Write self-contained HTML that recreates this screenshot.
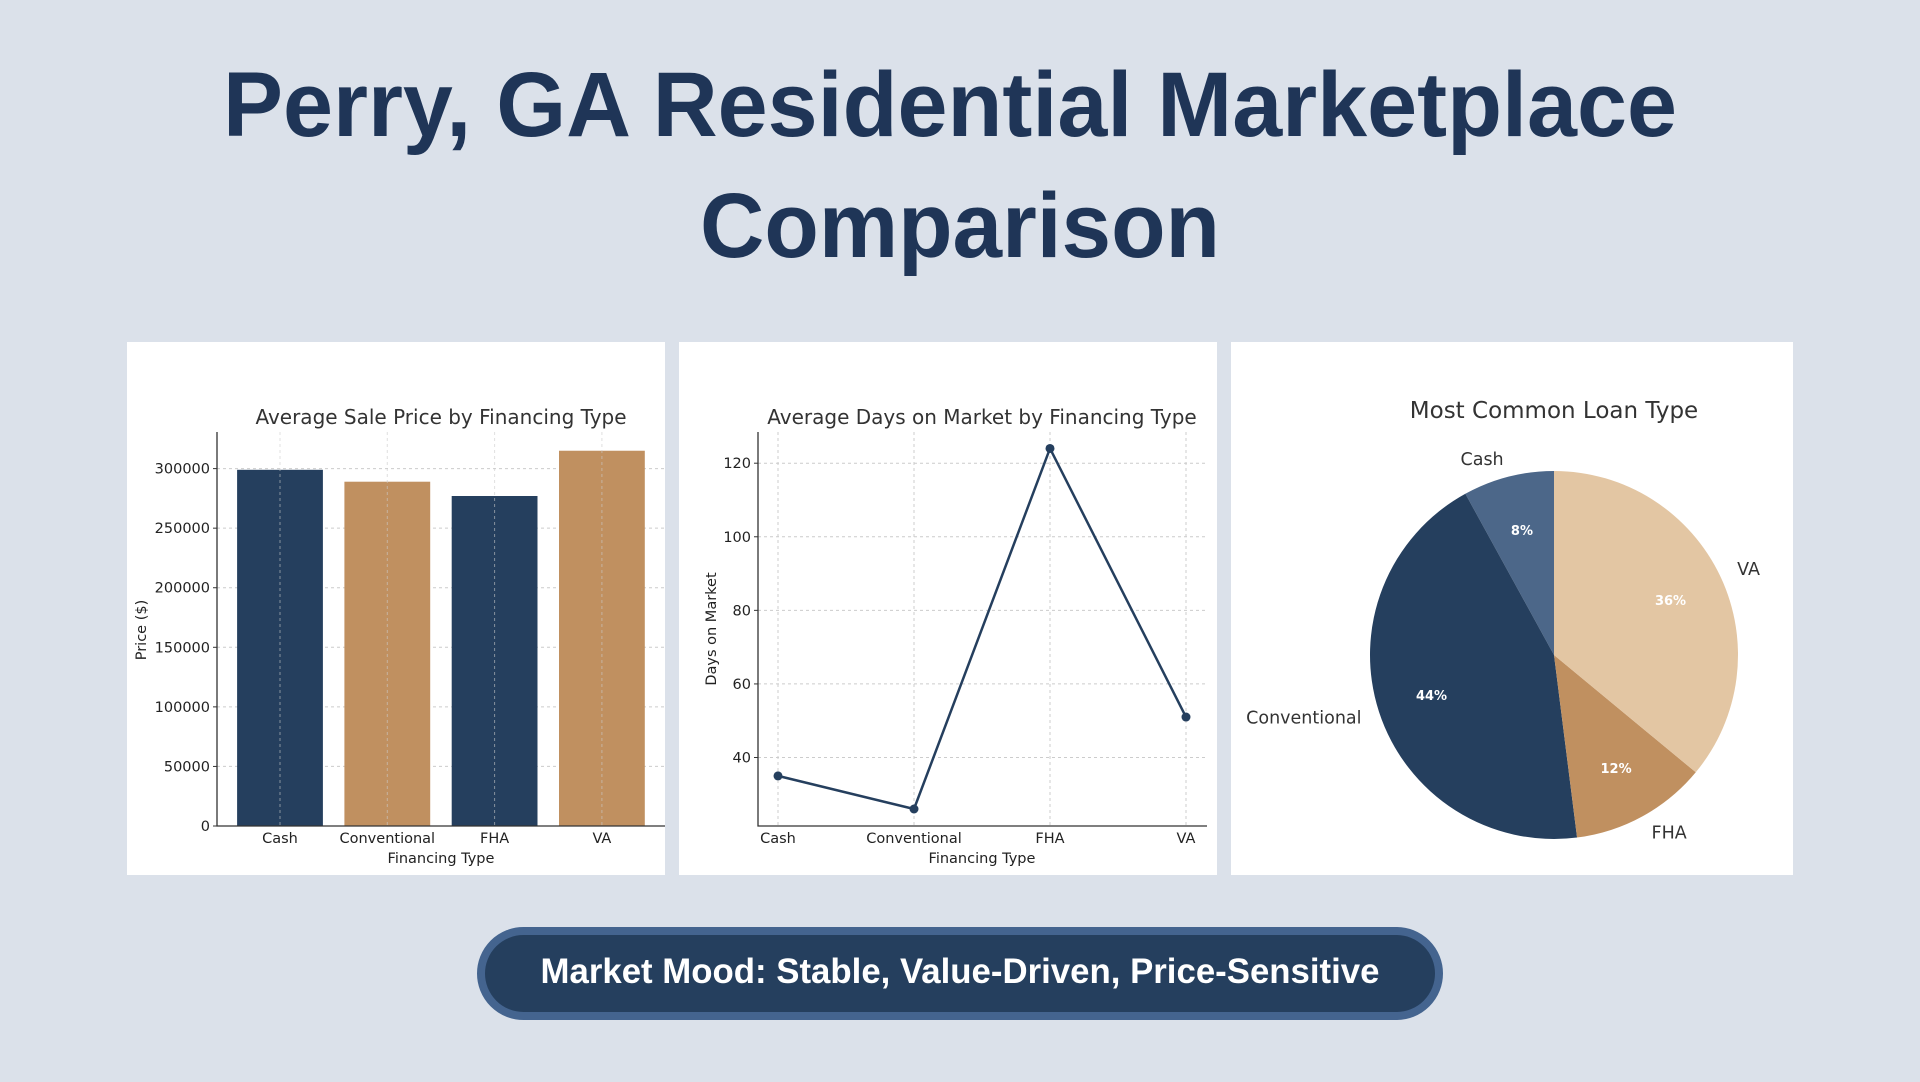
<!DOCTYPE html>
<html><head><meta charset="utf-8"><style>
html,body{margin:0;padding:0;background:#dbe1ea;}
svg{display:block;font-family:"DejaVu Sans","Liberation Sans",sans-serif;}
</style></head><body>
<svg id="root" width="1920" height="1082" viewBox="0 0 1920 1082">
<rect x="0" y="0" width="1920" height="1082" fill="#dbe1ea"/>
<text x="950" y="136" text-anchor="middle" font-family="Liberation Sans, sans-serif" font-weight="bold" font-size="92" fill="#1f3557" textLength="1454" lengthAdjust="spacingAndGlyphs">Perry, GA Residential Marketplace</text>
<text x="960" y="257" text-anchor="middle" font-family="Liberation Sans, sans-serif" font-weight="bold" font-size="92" fill="#1f3557" textLength="520" lengthAdjust="spacingAndGlyphs">Comparison</text>

<rect x="127" y="342" width="538" height="533" fill="#fff"/>
<rect x="679" y="342" width="538" height="533" fill="#fff"/>
<rect x="1231" y="342" width="562" height="533" fill="#fff"/>
<g id="bar"></g>
<g id="line"></g>
<g id="pie"></g>

<g>
<rect x="481" y="931" width="958" height="85" rx="42.5" fill="#253f5e" stroke="#44648f" stroke-width="8"/>
<text x="960" y="983" text-anchor="middle" font-family="Liberation Sans, sans-serif" font-weight="bold" font-size="35" fill="#fff" textLength="839" lengthAdjust="spacingAndGlyphs">Market Mood: Stable, Value-Driven, Price-Sensitive</text>
</g>
</svg>
<script>
const categories = ["Cash","Conventional","FHA","VA"];
const priceValues = [299000, 289000, 277000, 315000];
const priceTicks = [0,50000,100000,150000,200000,250000,300000];
const daysValues = [35, 26, 124, 51];
const daysTicks = [40,60,80,100,120];
const loanShares = [8, 44, 12, 36];
const pieColors = ["#4c6789","#253f5e","#c09060","#e3c6a3"];
const barColors = ["#253f5e","#c09060","#253f5e","#c09060"];

const NS="http://www.w3.org/2000/svg";
function mk(parent,tag,attrs,text){const e=document.createElementNS(NS,tag);for(const k in attrs)e.setAttribute(k,attrs[k]);if(text!==undefined)e.textContent=text;parent.appendChild(e);return e;}

// Bar chart
(function(){
const g=document.getElementById('bar');
const y0=826,yTop=432,ax=217,axR=665;
const yScale=v=>y0-v*(826-468.6)/300000;
const xScale=i=>280+i*107.3;
const bw=85.8;
let t=mk(g,'text',{x:441,y:424,'text-anchor':'middle','font-size':20,fill:'#333'},"Average Sale Price by Financing Type");

priceTicks.forEach(v=>{const y=yScale(v);
 let l=mk(g,'line',{x1:ax,x2:axR,y1:y,y2:y,stroke:'#ccc','stroke-dasharray':'3,3','stroke-width':1});
 
 let tk=mk(g,'line',{x1:ax-4,x2:ax,y1:y,y2:y,stroke:'#333'});
 
 let tl=mk(g,'text',{x:ax-7,y:y+5,'text-anchor':'end','font-size':14.5,fill:'#222'},String(v));
 
});
categories.forEach((c,i)=>{const x=xScale(i);
 let r=mk(g,'rect',{x:x-bw/2,y:yScale(priceValues[i]),width:bw,height:y0-yScale(priceValues[i]),fill:barColors[i]});
 
 let gl=mk(g,'line',{x1:x,x2:x,y1:yTop,y2:y0,stroke:'#ccc','stroke-opacity':0.6,'stroke-dasharray':'3,3'});
 
 let tl=mk(g,'text',{x:x,y:843,'text-anchor':'middle','font-size':14.5,fill:'#222'},c);
 
});
let a=mk(g,'path',{d:`M${ax} ${yTop}V${y0}H${axR}`,fill:'none',stroke:'#333','stroke-width':1.3});

let xl=mk(g,'text',{x:441,y:863,'text-anchor':'middle','font-size':14.5,fill:'#222'},"Financing Type");

let yl=mk(g,'text',{x:146,y:630,'text-anchor':'middle','font-size':14.5,fill:'#222',transform:'rotate(-90 146 630)'},"Price ($)");

})();

// Line chart
(function(){
const g=document.getElementById('line');
const y0=826,yTop=432,ax=758,axR=1207;
const yScale=v=>757.5-(v-40)*(757.5-463.2)/80;
const xScale=i=>778+i*136;
let t=mk(g,'text',{x:982,y:424,'text-anchor':'middle','font-size':20,fill:'#333'},"Average Days on Market by Financing Type");

daysTicks.forEach(v=>{const y=yScale(v);
 let l=mk(g,'line',{x1:ax,x2:axR,y1:y,y2:y,stroke:'#ccc','stroke-dasharray':'3,3'});
 
 let tk=mk(g,'line',{x1:ax-4,x2:ax,y1:y,y2:y,stroke:'#333'});
 
 let tl=mk(g,'text',{x:ax-7,y:y+5,'text-anchor':'end','font-size':14.5,fill:'#222'},String(v));
 
});
categories.forEach((c,i)=>{const x=xScale(i);
 let gl=mk(g,'line',{x1:x,x2:x,y1:yTop,y2:y0,stroke:'#ccc','stroke-dasharray':'3,3'});
 
 let tl=mk(g,'text',{x:x,y:843,'text-anchor':'middle','font-size':14.5,fill:'#222'},c);
 
});
let d=daysValues.map((v,i)=>(i?'L':'M')+xScale(i)+' '+yScale(v)).join('');
let p=mk(g,'path',{d:d,fill:'none',stroke:'#253f5e','stroke-width':2.5});

daysValues.forEach((v,i)=>{let c=mk(g,'circle',{cx:xScale(i),cy:yScale(v),r:4.5,fill:'#253f5e'});
 });
let a=mk(g,'path',{d:`M${ax} ${yTop}V${y0}H${axR}`,fill:'none',stroke:'#333','stroke-width':1.3});

let xl=mk(g,'text',{x:982,y:863,'text-anchor':'middle','font-size':14.5,fill:'#222'},"Financing Type");

let yl=mk(g,'text',{x:716,y:629,'text-anchor':'middle','font-size':14.5,fill:'#222',transform:'rotate(-90 716 629)'},"Days on Market");

})();

// Pie chart
(function(){
const g=document.getElementById('pie');
const cx=1554,cy=655,rx=184,ry=184;
let t=mk(g,'text',{x:1554,y:418,'text-anchor':'middle','font-size':23,fill:'#333'},"Most Common Loan Type");

const total=loanShares.reduce((a,b)=>a+b,0);
let ang=90;
const pt=(a,f)=>[cx+rx*f*Math.cos(a*Math.PI/180),cy-ry*f*Math.sin(a*Math.PI/180)];
loanShares.forEach((v,i)=>{
 const sweep=v/total*360,a1=ang+sweep,mid=ang+sweep/2;
 const [x0,y0]=pt(ang,1),[x1,y1]=pt(a1,1);
 let s=mk(g,'path',{d:`M${cx} ${cy}L${x0} ${y0}A${rx} ${ry} 0 ${sweep>180?1:0} 0 ${x1} ${y1}Z`,fill:pieColors[i]});
 
 const [lx,ly]=pt(mid,1.1);
 const cosm=Math.cos(mid*Math.PI/180);
 let l=mk(g,'text',{x:lx,y:ly+6,'text-anchor':cosm<-0.05?'end':(cosm>0.05?'start':'middle'),'font-size':17.5,fill:'#333'},categories[i]);
 
 const [px,py]=pt(mid,0.7);
 let pc=mk(g,'text',{x:px,y:py+5,'text-anchor':'middle','font-size':13,'font-weight':'bold',fill:'#fff'},Math.round(v/total*100)+'%');
 
 ang=a1;
});
})();
</script>
</body></html>
